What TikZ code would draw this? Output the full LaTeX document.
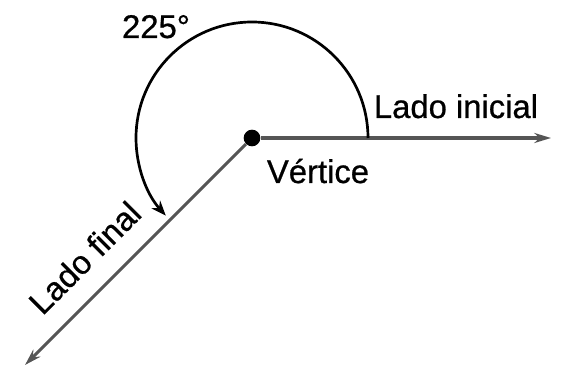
\documentclass[tikz,border=0pt]{standalone}
\usepackage{fontspec}
\setmainfont{Liberation Sans}
\newfontfamily\lblfont{Liberation Sans}[FakeBold=0.7]
\usetikzlibrary{arrows.meta, positioning, calc}
\definecolor{sidegray}{HTML}{555555}

\begin{document}
\begin{tikzpicture}[x=0.03cm, y=0.03cm,
    sideline/.style={draw=sidegray, line width=2.6pt,
      -{Stealth[length=0.5cm, width=0.3cm]}},
    txt/.style={inner sep=0pt, anchor=base,
      font=\lblfont\fontsize{28}{32}\selectfont},
    >=Stealth
  ]
  \useasboundingbox (0,0) rectangle (563,368);
  \node[circle, fill=black, inner sep=0pt, minimum size=0.5cm] (vertex)
    at (252,230) {};
  \coordinate (initend) at (551,230);
  \coordinate (finalend) at (25,3);
  \draw[sideline] (vertex) -- (initend);
  \draw[sideline] (vertex) -- (finalend);
  \draw[line width=2.3pt, -{Stealth[length=0.45cm, width=0.35cm]}]
    ([shift={(0:116)}]vertex.center) arc[start angle=0, end angle=222, radius=116];
  \node[txt] (angle) at (156,330) {225°};
  \node[txt] (initial) at (456,250) {Lado inicial};
  \node[txt] (vlabel) at (318,185) {Vértice};
  \node[txt, rotate=45] (final) at (93,102) {Lado final};
\end{tikzpicture}
\end{document}
